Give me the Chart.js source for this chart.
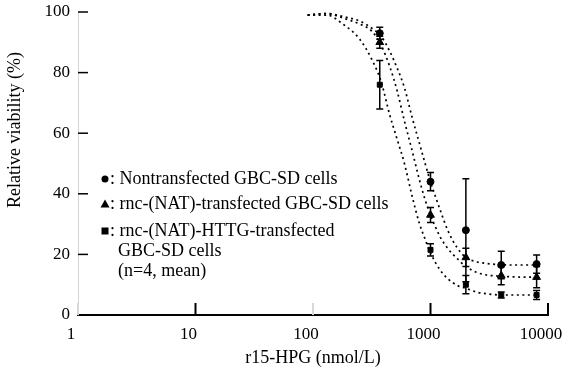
<!DOCTYPE html>
<html>
<head>
<meta charset="utf-8">
<script src="https://cdn.jsdelivr.net/npm/chart.js@4.4.0/dist/chart.umd.min.js"></script>
<style>
html, body {margin:0; padding:0; background:#fff;}
#wrap {width:563px; height:383px;}
</style>
</head>
<body>
<div id="wrap"><canvas id="survival-chart"></canvas></div>
<script>
// measured points (nmol/L)
var doseValues = [370, 1000, 2000, 4000, 8000];
var nonTransfected = [93, 44, 28, 16.5, 16.8];
var natTransfected = [90, 33, 19, 13, 12.5];
var httgTransfected = [76, 21.5, 10, 6.6, 6.6];
var nonTransfectedErr = [2, 3, 17, 4.5, 3];
var natTransfectedErr = [2, 2.5, 3, 3, 3.5];
var httgTransfectedErr = [8, 2, 3, 1, 1.5];

// fitted curves
var curveDose = [90, 130, 180, 250, 320, 380, 450, 520, 600, 700, 800, 900, 1000, 1200, 1400, 1700, 2000, 2500, 3000, 4000, 5000, 6500, 8000];
var curveNon = [99, 99.5, 98.5, 97, 94.5, 92, 87, 81.5, 75, 65, 57, 50, 44, 35, 28, 22, 19, 17.5, 17, 16.6, 16.5, 16.5, 16.5];
var curveNat = [99, 99.5, 98, 96, 93.5, 89, 82, 74, 64, 54, 45, 38, 33, 26, 22, 18.5, 16, 14, 13.2, 12.8, 12.6, 12.5, 12.5];
var curveHttg = [99, 99, 96, 91, 84, 77, 66, 58, 50, 39, 30.5, 25, 20.5, 15, 12, 9.7, 8.8, 7.5, 7, 6.6, 6.6, 6.6, 6.6];

var xTickValues = [1, 10, 100, 1000, 10000];
var yTickValues = [0, 20, 40, 60, 80, 100];

var legendLabels = [
    [': Nontransfected GBC-SD cells'],
    [': rnc-(NAT)-transfected GBC-SD cells'],
    [': rnc-(NAT)-HTTG-transfected', 'GBC-SD cells', '(n=4, mean)']
];
var legendMarkers = ['circle', 'triangle', 'rect'];

var serif = "'Liberation Serif', 'DejaVu Serif', serif";

function pairs(xs, ys){
    let out = [];
    for(let i=0; i<xs.length; i++){
        out.push({x: xs[i], y: ys[i]});
    }
    return out;
}

function curveSet(values){
    return {
        type: 'line',
        data: pairs(curveDose, values),
        borderColor: '#000',
        borderWidth: 1.7,
        borderDash: [2, 3.5],
        pointRadius: 0,
        cubicInterpolationMode: 'monotone',
        fill: false
    };
}

function markerSet(values, errs, style, radius){
    return {
        type: 'line',
        data: pairs(doseValues, values),
        errors: errs,
        showLine: false,
        pointStyle: style,
        pointRadius: radius,
        backgroundColor: '#000',
        borderColor: '#000',
        borderWidth: 1
    };
}

function drawMarker(ctx, style, x, y){
    ctx.fillStyle = '#000';
    ctx.beginPath();
    if(style == 'circle'){
        ctx.arc(x, y, 3.5, 0, Math.PI*2);
    } else if(style == 'triangle'){
        ctx.moveTo(x, y-4.5);
        ctx.lineTo(x+4.5, y+3.5);
        ctx.lineTo(x-4.5, y+3.5);
        ctx.closePath();
    } else {
        ctx.rect(x-3.5, y-3.5, 7, 7);
    }
    ctx.fill();
}

// error bars, inner ticks, y title and the legend box
const extrasPlugin = {
    id: 'extras',
    beforeDatasetsDraw(chart){
        const ctx = chart.ctx;
        const xs = chart.scales.x;
        const ys = chart.scales.y;
        const area = chart.chartArea;
        ctx.save();
        ctx.strokeStyle = '#000';
        ctx.lineWidth = 1.5;
        chart.data.datasets.forEach(function(ds){
            if(!ds.errors){return;}
            for(let i=0; i<ds.data.length; i++){
                let px = xs.getPixelForValue(ds.data[i].x);
                let top = ys.getPixelForValue(ds.data[i].y + ds.errors[i]);
                let bot = ys.getPixelForValue(ds.data[i].y - ds.errors[i]);
                ctx.beginPath();
                ctx.moveTo(px, top); ctx.lineTo(px, bot);
                ctx.moveTo(px-3.5, top); ctx.lineTo(px+3.5, top);
                ctx.moveTo(px-3.5, bot); ctx.lineTo(px+3.5, bot);
                ctx.stroke();
            }
        });

        // tick marks point inward
        ctx.lineWidth = 1.5;
        yTickValues.forEach(function(v){
            let py = ys.getPixelForValue(v);
            ctx.beginPath();
            ctx.moveTo(area.left, py); ctx.lineTo(area.left + 10, py);
            ctx.stroke();
        });
        xTickValues.forEach(function(v){
            let px = xs.getPixelForValue(v);
            ctx.strokeStyle = (v == 1 || v == 100) ? '#d8d8d8' : '#000';
            ctx.lineWidth = 2;
            ctx.beginPath();
            ctx.moveTo(px, area.bottom); ctx.lineTo(px, area.bottom - 12);
            ctx.stroke();
        });
        ctx.restore();
    },
    afterDraw(chart){
        const ctx = chart.ctx;
        const area = chart.chartArea;
        ctx.save();
        // y title
        ctx.translate(15, 130);
        ctx.rotate(-Math.PI/2);
        ctx.font = '18px ' + serif;
        ctx.fillStyle = '#000';
        ctx.textAlign = 'center';
        ctx.textBaseline = 'middle';
        ctx.fillText('Relative viability (%)', 0, 0);
        ctx.restore();

        // legend
        ctx.save();
        ctx.font = '18px ' + serif;
        ctx.fillStyle = '#000';
        ctx.textBaseline = 'middle';
        let rowY = [area.top + 167, area.top + 192, area.top + 219];
        for(let i=0; i<legendLabels.length; i++){
            drawMarker(ctx, legendMarkers[i], area.left + 27, rowY[i]);
            ctx.fillStyle = '#000';
            for(let j=0; j<legendLabels[i].length; j++){
                let tx = j == 0 ? area.left + 32 : area.left + 40;
                ctx.fillText(legendLabels[i][j], tx, rowY[i] + j*20);
            }
        }
        ctx.restore();
    }
};

const survivalChart = new Chart(document.getElementById('survival-chart'), {
    type: 'line',
    data: {
        datasets: [
            curveSet(curveNon),
            curveSet(curveNat),
            curveSet(curveHttg),
            markerSet(nonTransfected, nonTransfectedErr, 'circle', 3.5),
            markerSet(natTransfected, natTransfectedErr, 'triangle', 4.5),
            markerSet(httgTransfected, httgTransfectedErr, 'rect', 3.5)
        ]
    },
    options: {
        responsive: true,
        maintainAspectRatio: false,
        animation: false,
        events: [],
        layout: {padding: {top: 12, right: 0, left: 0, bottom: 0}},
        plugins: {legend: {display: false}, tooltip: {enabled: false}},
        scales: {
            x: {
                type: 'logarithmic',
                min: 1,
                max: 10000,
                afterBuildTicks: function(scale){
                    scale.ticks = xTickValues.map(function(v){return {value: v};});
                },
                afterFit: function(scale){
                    scale.height = 68;
                    scale.paddingLeft = 0;
                    scale.paddingRight = 15;
                },
                grid: {display: false, drawTicks: false},
                border: {display: true, color: '#000', width: 2},
                ticks: {
                    color: '#000',
                    padding: 9,
                    maxRotation: 0,
                    labelOffset: -7,
                    font: {family: serif, size: 17},
                    callback: function(v){ return String(v); }
                },
                title: {
                    display: true,
                    text: 'r15-HPG (nmol/L)',
                    color: '#000',
                    font: {family: serif, size: 18},
                    padding: {top: 0, bottom: 14}
                }
            },
            y: {
                min: 0,
                max: 100,
                afterBuildTicks: function(scale){
                    scale.ticks = yTickValues.map(function(v){return {value: v};});
                },
                afterFit: function(scale){
                    scale.width = 78;
                    scale.paddingTop = 0;
                    scale.paddingBottom = 0;
                },
                grid: {display: false, drawTicks: false},
                border: {display: true, color: '#d4d4d4', width: 1},
                ticks: {
                    color: '#000',
                    padding: 8,
                    font: {family: serif, size: 17}
                }
            }
        }
    },
    plugins: [extrasPlugin]
});
</script>
</body>
</html>
